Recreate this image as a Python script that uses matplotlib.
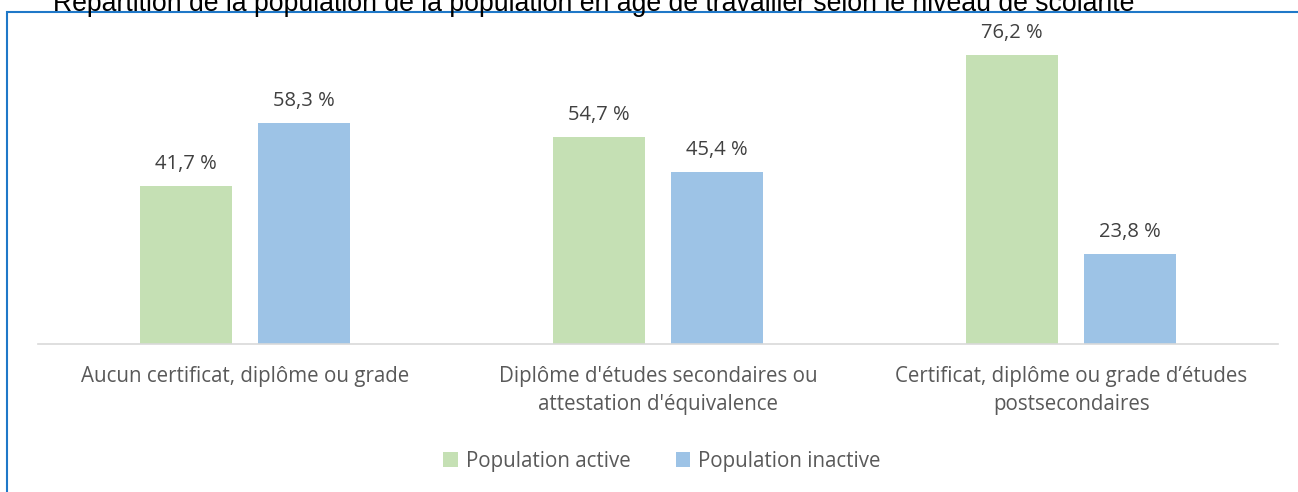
import matplotlib
matplotlib.use("Agg")
import matplotlib.pyplot as plt
from matplotlib.patches import Rectangle
import numpy as np

categories = ["Aucun certificat, diplôme ou grade",
              "Diplôme d'études secondaires ou\nattestation d'équivalence",
              "Certificat, diplôme ou grade d’études\npostsecondaires"]
series_names = ["Population active", "Population inactive"]
active = [41.7, 54.7, 76.2]
inactive = [58.3, 45.4, 23.8]
colors = ["#c5e0b4", "#9dc3e6"]
title = "Répartition de la population de la population en âge de travailler selon le niveau de scolarité"

W, H = 1298, 492
fig = plt.figure(figsize=(W/100, H/100), dpi=100)
fig.patch.set_facecolor("white")

# border
fig.patches.append(Rectangle((7/W, -0.1), 1.2, (H-12)/H + 0.1, transform=fig.transFigure,
                             fill=False, edgecolor="#1f78c8", linewidth=1.5))

# axes: baseline at y=344, scale 3.793 px/unit; ylim 0..80
x0, x1 = 38, 1278
ybase = 344
ymax = 80
ppu = 3.793
ytop = ybase - ymax*ppu
ax = fig.add_axes([x0/W, (H-ybase)/H, (x1-x0)/W, (ybase-ytop)/H])
ax.set_xlim(-0.5, 2.5)
ax.set_ylim(0, ymax)
for s in ["top", "right", "left"]:
    ax.spines[s].set_visible(False)
ax.spines["bottom"].set_color("#d9d9d9")
ax.spines["bottom"].set_linewidth(1.2)
ax.set_yticks([])

font = "Open Sans"
x = np.arange(len(categories))
bw = 0.2226
gap = 0.063
off = (bw + gap)/2
b1 = ax.bar(x - off, active, bw, color=colors[0], label=series_names[0])
b2 = ax.bar(x + off, inactive, bw, color=colors[1], label=series_names[1])
for bars, vals in [(b1, active), (b2, inactive)]:
    for b, v in zip(bars, vals):
        ax.annotate(f"{v:.1f} %".replace(".", ","), (b.get_x()+b.get_width()/2, v),
                    xytext=(0, 8.5), textcoords="offset points", ha="center", va="bottom",
                    fontsize=14.5, color="#404040", family=font)

ax.set_xticks(x)
ax.set_xticklabels(categories, fontsize=14.8, color="#595959", family=font, linespacing=1.45)
ax.tick_params(axis="x", length=0, pad=16)

leg = fig.legend(handles=[b1, b2], labels=series_names, loc="center", bbox_to_anchor=(662/W, 1-461/H),
                 ncol=2, frameon=False, prop={"family": font, "size": 14.8},
                 handlelength=0.7, handleheight=0.7, columnspacing=2.2, handletextpad=0.4)
for t in leg.get_texts():
    t.set_color("#595959")

fig.text(594/W, 1-4/H, title, ha="center", va="center", fontsize=19.2, family="Liberation Sans", color="black")

fig.savefig("out.png", dpi=100)
